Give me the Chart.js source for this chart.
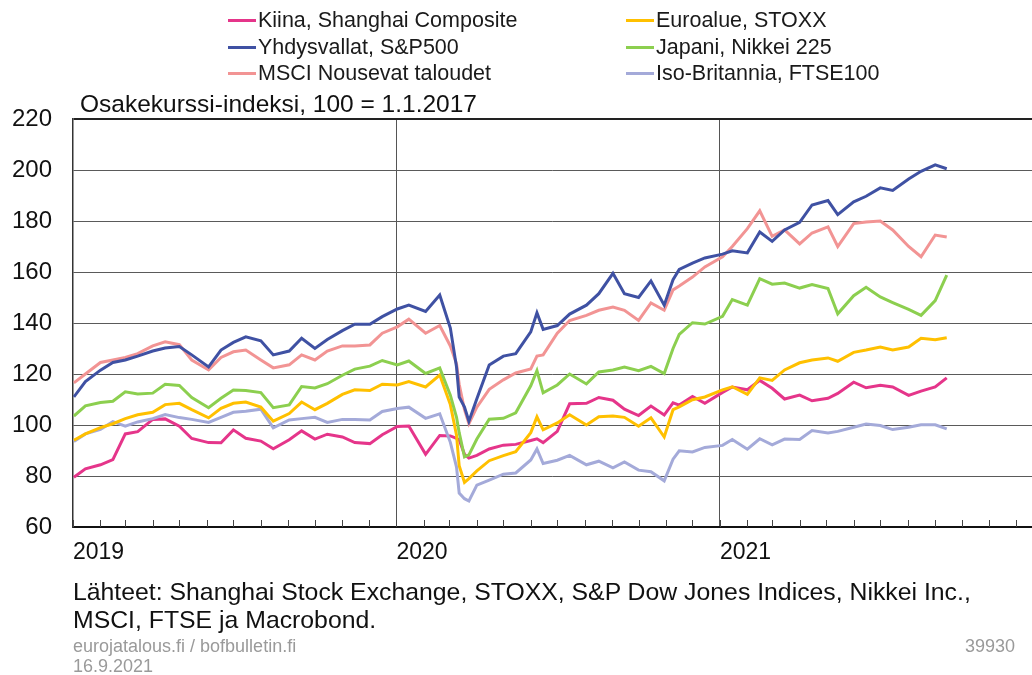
<!DOCTYPE html>
<html>
<head>
<meta charset="utf-8">
<script src="https://cdn.jsdelivr.net/npm/chart.js@4.4.1/dist/chart.umd.min.js"></script>
<style>
  html, body { margin: 0; padding: 0; background: #fff; }
  body { width: 1032px; height: 675px; position: relative; overflow: hidden; font-family: "Liberation Sans", Arial, sans-serif; }
  #chart { position: absolute; left: 0; top: 0; }
  .lg { position: absolute; font-size: 21.5px; line-height: 21px; color: #1a1a1a; white-space: nowrap; }
  .lg i { position: absolute; left: -30px; top: 9px; width: 28px; height: 3px; }
  .title { position: absolute; left: 80px; top: 92px; font-size: 24.5px; line-height: 24px; color: #111; white-space: nowrap; }
  .src { position: absolute; left: 73px; top: 578px; font-size: 24.8px; line-height: 28px; color: #111; white-space: nowrap; }
  .foot { position: absolute; font-size: 18px; line-height: 20px; color: #9a9a9a; }
</style>
</head>
<body>
<canvas id="chart" width="1032" height="675"></canvas>
<div id="legend"></div>
<div class="title">Osakekurssi-indeksi, 100 = 1.1.2017</div>
<div class="src">Lähteet: Shanghai Stock Exchange, STOXX, S&amp;P Dow Jones Indices, Nikkei Inc.,<br>MSCI, FTSE ja Macrobond.</div>
<div class="foot" style="left:73px;top:636px;">eurojatalous.fi / bofbulletin.fi<br>16.9.2021</div>
<div class="foot" style="right:17px;top:636px;">39930</div>
<script>
// päivämäärät (noin puolen kuun välein)
const dates = [
  '2019-01-02','2019-01-15','2019-02-01','2019-02-15','2019-03-01','2019-03-15','2019-04-01','2019-04-15',
  '2019-05-01','2019-05-15','2019-06-03','2019-06-17','2019-07-01','2019-07-15','2019-08-01','2019-08-15',
  '2019-09-02','2019-09-16','2019-10-01','2019-10-15','2019-11-01','2019-11-15','2019-12-02','2019-12-16',
  '2020-01-02','2020-01-15','2020-02-03','2020-02-19','2020-03-02','2020-03-09','2020-03-12','2020-03-18',
  '2020-03-23','2020-04-01','2020-04-15','2020-05-01','2020-05-15','2020-06-01','2020-06-08','2020-06-15',
  '2020-07-01','2020-07-15','2020-08-03','2020-08-17','2020-09-02','2020-09-15','2020-10-01','2020-10-15',
  '2020-10-30','2020-11-09','2020-11-16','2020-12-01','2020-12-15',
  '2021-01-04','2021-01-15','2021-02-01','2021-02-15','2021-03-01','2021-03-15','2021-04-01','2021-04-15',
  '2021-05-03','2021-05-14','2021-06-01','2021-06-15','2021-07-01','2021-07-15','2021-08-02','2021-08-16',
  '2021-09-01','2021-09-14'
];

const kiina = [
  79.5, 82.8, 84.4, 86.4, 96.5, 97.4, 102.2, 102.4, 99.5, 94.7, 93.1, 93, 98.1, 94.8, 93.7, 90.7,
  94.2, 97.7, 94.5, 96.4, 95.3, 93.1, 92.7, 96.2,
  99.4, 99.6, 88.5, 95.9, 95.7, 94.8, 94.2, 88.5, 87, 88.1, 90.6, 92.1, 92.4, 93.9, 94.6, 93.1,
  97.5, 108.3, 108.5, 110.8, 109.7, 106.2, 103.7, 107.4, 103.9, 108.7, 107.8, 111.2, 108.5,
  112.8, 114.9, 113.8, 117.5, 114.4, 110.2, 111.7, 109.5, 110.5, 112.4, 116.8, 114.6, 115.6, 114.9,
  111.6, 113.3, 114.9, 118.5
];
const euroalue = [
  94, 96.5, 99, 100.5, 102.5, 104, 105, 108, 108.5, 106, 102.8, 106.5, 108.5, 109, 107, 101.5,
  104.5, 109, 106, 108.5, 112, 113.8, 113.5, 116,
  115.7, 117, 114.9, 119.6, 108, 96, 84, 77.5, 79, 82, 86, 88, 89.5, 97, 103.2, 98.1,
  100.8, 104, 100, 103.2, 103.5, 103, 99.5, 102.8, 95.3, 106, 107.1, 109.9, 111,
  113.8, 115, 112, 118.5, 117.5, 121.6, 124.4, 125.5, 126.3, 125, 128.5, 129.4, 130.6, 129.4,
  130.6, 134, 133.4, 134.2
];
const yhdysvallat = [
  111, 117, 121.5, 124.5, 125.5, 127, 129, 130.2, 130.8, 127.5, 122.8, 129.4, 132.4, 134.6, 133, 127.5,
  129, 134, 130, 133.5, 137, 139.5, 139.5, 142.5,
  145.5, 147, 144.5, 151, 138, 122.7, 111, 107, 101.5, 110.3, 123.5, 127, 128, 136.5, 144, 137.5,
  139, 143.5, 147, 151.5, 159.5, 151.5, 150, 156.5, 147, 157, 161, 163.5, 165.5,
  167, 168.3, 167.5, 175.7, 172, 176.5, 179.5, 186.3, 188, 182.5, 187.5, 189.7, 193, 192,
  196.5, 199.5, 202, 200.5
];
const japani = [
  103.5, 107.5, 108.8, 109.3, 113, 112.2, 112.5, 116, 115.5, 110.8, 106.8, 110.5, 113.7, 113.5, 112.7, 106.8,
  107.9, 115.1, 114.5, 116.2, 119.5, 121.9, 123.1, 125.3,
  123.6, 125.1, 120.2, 122.4, 111.7, 103, 97, 87.5, 88.3, 94.5, 102.3, 102.6, 104.8, 115.4, 121.3, 112.6,
  115.7, 120, 116.1, 120.8, 121.6, 122.7, 121.3, 123, 120.2, 130, 135.5, 140.1, 139.6,
  142.6, 149.2, 147, 157.4, 155.2, 155.7, 153.7, 155.1, 153.5, 143.6, 150.7, 154, 150.2, 148,
  145.3, 143, 148.8, 158.8
];
const msci = [
  116.5, 120, 124.5, 125.5, 126.5, 128, 131, 132.6, 131.5, 125.5, 121.6, 126.5, 128.7, 129.4, 125.5, 122.4,
  123.6, 127.5, 125.5, 129, 131, 131, 131.4, 136,
  138.5, 141.5, 136, 139, 131, 124, 116, 106, 100.5, 107, 114, 117.7, 120.4, 122, 127, 127.5,
  136, 141, 143, 145, 146.3, 145, 141, 147.9, 145, 153, 154.5, 158, 162,
  166, 170, 177, 184, 174, 176.5, 171, 175.3, 177.7, 170, 179, 179.6, 180, 176.5,
  170, 166, 174.5, 173.7
];
const britannia = [
  93.5, 96.5, 98.3, 101.3, 99.5, 101.2, 102.5, 104.1, 102.9, 102.2, 101, 103, 105, 105.4, 106.2, 98.9,
  102, 102.5, 103, 101, 102.2, 102.2, 102, 105.3,
  106.5, 107, 102.6, 104.4, 93.2, 83.5, 73.3, 71.1, 70.2, 76.4, 78.4, 80.7, 81.2, 86.3, 90.6, 84.9,
  86.2, 88.1, 84.4, 85.8, 83.2, 85.5, 82.3, 81.7, 78.1, 86.6, 89.9, 89.4, 91.2,
  92, 94.3, 90.5, 94.6, 92.2, 94.5, 94.3, 97.8, 96.9, 97.5, 99.1, 100.4, 99.8, 98.2,
  99.1, 100.1, 100.1, 98.5
];

const seriesNames = ['Kiina, Shanghai Composite', 'Euroalue, STOXX', 'Yhdysvallat, S&P500',
  'Japani, Nikkei 225', 'MSCI Nousevat taloudet', 'Iso-Britannia, FTSE100'];
const seriesColors = ['#e5358a', '#ffc000', '#3f51a3', '#8ccf4f', '#f29494', '#a4aad9'];
const seriesValues = [kiina, euroalue, yhdysvallat, japani, msci, britannia];
const yTicks = [60, 80, 100, 120, 140, 160, 180, 200, 220];
const years = [2019, 2020, 2021];
const xMin = 2019, xMax = 2021.965; // kuva rajautuu joulukuun puoliväliin

// päivämäärä -> desimaalivuosi
function toYear(s) {
  const d = new Date(s + 'T00:00:00Z');
  const y = d.getUTCFullYear();
  const a = Date.UTC(y, 0, 1), b = Date.UTC(y + 1, 0, 1);
  return y + (d.getTime() - a) / (b - a);
}

const xMonths = [];
years.forEach(y => { for (let m = 0; m < 12; m++) xMonths.push(y + (Date.UTC(y, m, 1) - Date.UTC(y, 0, 1)) / (Date.UTC(y + 1, 0, 1) - Date.UTC(y, 0, 1))); });

const isYear = v => Math.abs(v - Math.round(v)) < 1e-9;

// legenda
const legend = document.getElementById('legend');
seriesNames.forEach((name, i) => {
  const col = i % 2, row = Math.floor(i / 2);
  const el = document.createElement('div');
  el.className = 'lg';
  el.style.left = (col ? 656 : 258) + 'px';
  el.style.top = (10 + row * 26.5) + 'px';
  el.textContent = name;
  const sw = document.createElement('i');
  sw.style.background = seriesColors[i];
  el.appendChild(sw);
  legend.appendChild(el);
});

const monthTicks = {
  id: 'monthTicks',
  afterDraw(chart) {
    const { ctx, chartArea, scales: { x } } = chart;
    ctx.save();
    ctx.strokeStyle = '#444';
    ctx.lineWidth = 1;
    x.ticks.forEach(t => {
      const px = Math.round(x.getPixelForValue(t.value)) + 0.5;
      ctx.beginPath();
      ctx.moveTo(px, chartArea.bottom);
      ctx.lineTo(px, chartArea.bottom - 7);
      ctx.stroke();
    });
    ctx.restore();
  }
};

const data = {
  datasets: seriesValues.map((vals, i) => ({
    label: seriesNames[i],
    data: vals.map((v, j) => ({ x: toYear(dates[j]), y: v })),
    borderColor: seriesColors[i],
    backgroundColor: seriesColors[i],
    borderWidth: 3,
    pointRadius: 0,
    tension: 0,
    order: [5, 3, 0, 2, 1, 4][i]
  }))
};

const config = {
  type: 'line',
  data: data,
  options: {
    responsive: false,
    animation: false,
    layout: { padding: { top: 119, left: 0, right: 0, bottom: 0 } },
    scales: {
      x: {
        type: 'linear',
        min: xMin,
        max: xMax,
        afterBuildTicks: s => { s.ticks = xMonths.map(v => ({ value: v })); },
        afterFit: s => { s.height = 675 - 527; s.paddingLeft = 0; s.paddingRight = 0; },
        grid: {
          drawTicks: false,
          color: c => (c.tick && isYear(c.tick.value) && c.tick.value > 2019) ? '#555' : 'rgba(0,0,0,0)',
          lineWidth: 1
        },
        border: { display: true, color: '#111', width: 2 },
        ticks: {
          autoSkip: false,
          maxRotation: 0,
          align: 'start',
          padding: 12,
          color: '#111',
          font: { family: '"Liberation Sans", Arial, sans-serif', size: 23 },
          callback: v => (isYear(v) && years.includes(Math.round(v))) ? String(Math.round(v)) : ''
        }
      },
      y: {
        min: 60,
        max: 220,
        afterBuildTicks: s => { s.ticks = yTicks.map(v => ({ value: v })); },
        afterFit: s => { s.width = 73; s.paddingTop = 0; s.paddingBottom = 0; },
        grid: {
          drawTicks: false,
          color: c => c.tick && c.tick.value === 220 ? '#222' : '#5a5a5a',
          lineWidth: c => c.tick && c.tick.value === 220 ? 2 : 1
        },
        border: { display: true, color: '#333', width: 1.5 },
        ticks: {
          padding: 21,
          color: '#111',
          font: { family: '"Liberation Sans", Arial, sans-serif', size: 24 }
        }
      }
    },
    plugins: {
      legend: { display: false },
      tooltip: { enabled: false }
    }
  },
  plugins: [monthTicks]
};

new Chart(document.getElementById('chart'), config);
</script>
</body>
</html>
